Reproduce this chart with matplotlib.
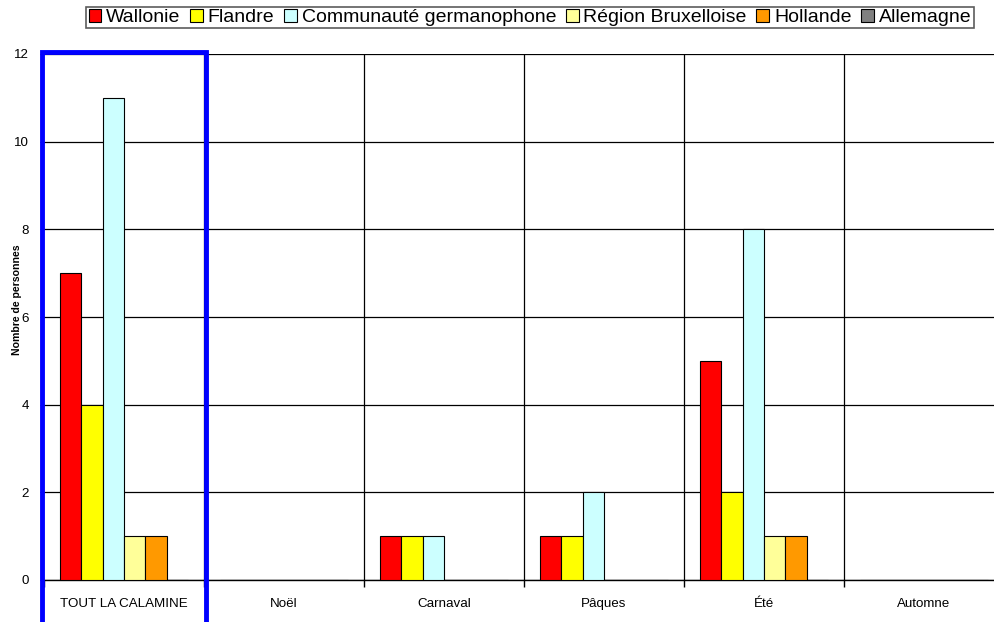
import numpy as np
import matplotlib.pyplot as plt
from matplotlib.patches import Rectangle

plt.rcParams['font.family'] = ['Liberation Sans', 'DejaVu Sans']

categories = ["TOUT LA CALAMINE", "Noël", "Carnaval", "Pâques", "Été", "Automne"]
series_names = ["Wallonie", "Flandre", "Communauté germanophone",
                "Région Bruxelloise", "Hollande", "Allemagne"]
wallonie = [7, 0, 1, 1, 5, 0]
flandre = [4, 0, 1, 1, 2, 0]
germanophone = [11, 0, 1, 2, 8, 0]
bruxelles = [1, 0, 0, 0, 1, 0]
hollande = [1, 0, 0, 0, 1, 0]
allemagne = [0, 0, 0, 0, 0, 0]
series = [wallonie, flandre, germanophone, bruxelles, hollande, allemagne]
colors = ["#FF0000", "#FFFF00", "#CCFFFF", "#FFFF99", "#FF9900", "#808080"]

fig = plt.figure(figsize=(9.94, 6.22), dpi=100)
ax = fig.add_axes([44 / 994, 1 - 580 / 622, 960 / 994, (580 - 54) / 622])

n = len(series)
slots = n + 1.5
bw = 1 / slots
x = np.arange(len(categories))
for j, (name, vals, c) in enumerate(zip(series_names, series, colors)):
    vals = np.array(vals, dtype=float)
    pos = x + (0.75 + j + 0.5) * bw
    ax.bar(pos, vals, width=bw, color=c, edgecolor="black", linewidth=0.8,
           label=name, zorder=3)

ax.set_xlim(0, len(categories))
ax.set_ylim(0, 12)
ax.set_yticks(range(0, 13, 2))
ax.yaxis.grid(True, color="black", linewidth=0.9, zorder=0)
ax.set_xticks(range(0, len(categories) + 1))
ax.set_xticklabels([])
ax.set_xticks(x + 0.5, minor=True)
ax.set_xticklabels(categories, minor=True)
ax.tick_params(axis="x", which="minor", length=0, pad=13, labelsize=9.6)
ax.tick_params(axis="x", which="major", length=5, width=1, direction="out")
ax.tick_params(axis="y", length=3, pad=8, labelsize=9.6)
for b in range(1, len(categories)):
    ax.axvline(b, color="black", linewidth=0.9, zorder=1)
for s in ["top", "right", "left"]:
    ax.spines[s].set_visible(False)
ax.spines["bottom"].set_linewidth(1)
ax.set_axisbelow(True)
fig.text(17 / 994, 1 - 300 / 622, "Nombre de personnes", rotation=90,
         fontsize=7.6, fontweight="bold", ha="center", va="center")

# blue highlight around the first group
ax.add_patch(Rectangle((-0.0125, -1.5), 1.0125 + 0.0125, 13.55, fill=False,
                       edgecolor="#0000FF", linewidth=3.5, clip_on=False, zorder=5))

leg = fig.legend(loc="center", bbox_to_anchor=(530 / 994, 1 - 17.5 / 622), ncol=6,
                 fontsize=14, frameon=True, fancybox=False, edgecolor="#333333",
                 handlelength=0.65, handleheight=0.65, handletextpad=0.25,
                 columnspacing=0.5, borderpad=0.12, borderaxespad=0)
leg.get_frame().set_linewidth(1.2)

fig.savefig("out.png", dpi=100)
